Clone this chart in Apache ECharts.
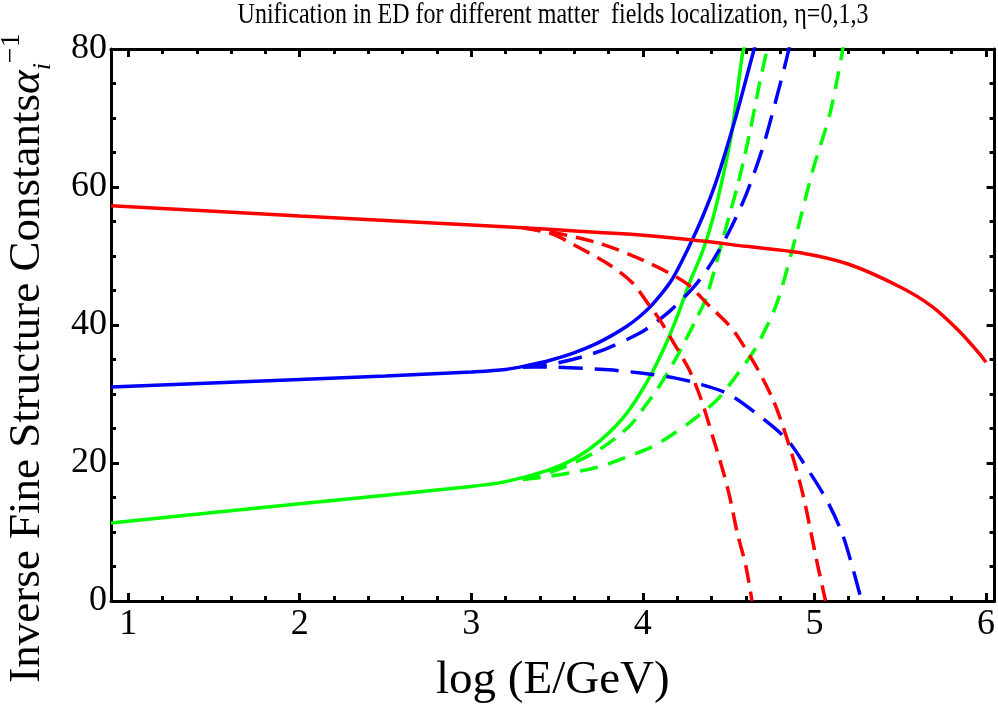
<!DOCTYPE html>
<html>
<head>
<meta charset="utf-8">
<script src="https://cdn.jsdelivr.net/npm/echarts@6/dist/echarts.min.js"></script>
<style>
html, body { margin: 0; padding: 0; background: #fff; }
#chart { width: 998px; height: 709px; }
</style>
</head>
<body>
<div id="chart"></div>
<script>
// values: [log10(E/GeV), alpha_i^-1]
var redSolid = [[0.9,57.3],[2.0,55.8],[3.0,54.5],[3.5,53.8],[3.75,53.4],[4.0,53.0],[4.33,52.2],[4.6,51.4],[4.91,50.5],[5.2,48.8],[5.5,45.5],[5.69,42.6],[5.84,39.2],[5.96,35.9],[6.0,34.6]];
var redDashA = [[3.3,54.1],[3.47,53.2],[3.6,51.6],[3.8,48.8],[3.94,46.1],[4.03,43.1],[4.1,40.7],[4.17,37.8],[4.27,33.5],[4.34,29.2],[4.41,23.6],[4.47,18.6],[4.51,14.7],[4.55,9.9],[4.6,5.1],[4.636,0]];
var redDashB = [[3.3,54.1],[3.5,53.3],[3.75,51.8],[4.0,49.4],[4.25,46.1],[4.39,42.7],[4.49,40.3],[4.54,38.8],[4.66,34.0],[4.76,29.1],[4.83,24.3],[4.89,19.5],[4.94,14.7],[4.98,9.9],[5.02,5.06],[5.065,0]];
var blueSolid = [[0.9,31.0],[2.0,32.1],[2.5,32.6],[3.0,33.2],[3.2,33.55],[3.34,34.2],[3.46,34.9],[3.59,35.9],[3.72,37.2],[3.82,38.5],[3.9,39.7],[3.98,41.2],[4.06,43.1],[4.17,46.6],[4.27,51.4],[4.35,55.8],[4.43,61.0],[4.54,70.0],[4.64,79.2],[4.66,81]];
var blueDashUp = [[3.3,33.9],[3.46,34.3],[3.65,35.4],[3.8,36.7],[3.98,38.8],[4.06,40.1],[4.17,42.3],[4.3,45.6],[4.4,49.0],[4.5,53.4],[4.6,58.8],[4.7,65.8],[4.78,73.0],[4.835,78.3],[4.86,81]];
var blueDashDown = [[3.3,33.9],[3.46,33.9],[3.8,33.5],[4.0,33.0],[4.19,32.3],[4.31,31.6],[4.49,30.1],[4.66,27.2],[4.84,23.4],[4.95,19.5],[5.07,14.7],[5.16,9.9],[5.22,5.06],[5.275,0]];
var greenSolid = [[0.9,11.3],[2.0,14.1],[3.0,16.6],[3.2,17.3],[3.44,18.9],[3.6,20.6],[3.75,23.2],[3.9,27.0],[4.03,32.0],[4.13,37.0],[4.2,41.2],[4.27,46.0],[4.35,50.8],[4.41,55.6],[4.47,61.9],[4.52,68.2],[4.58,79.2],[4.6,81]];
var greenDash1 = [[3.3,17.6],[3.5,19.0],[3.73,21.7],[3.92,25.3],[4.02,28.5],[4.1,31.3],[4.2,35.5],[4.3,40.3],[4.37,44.0],[4.45,51.0],[4.5,55.5],[4.56,61.0],[4.62,67.5],[4.68,75.0],[4.72,79.5],[4.73,81]];
var greenDash2 = [[3.3,17.6],[3.46,18.1],[3.67,19.0],[3.79,19.8],[3.9,20.8],[4.06,22.4],[4.17,24.1],[4.27,25.8],[4.43,29.1],[4.54,32.5],[4.66,36.8],[4.78,43.1],[4.89,52.7],[4.99,62.4],[5.09,70.6],[5.16,79.2],[5.17,81]];

var xMajor = [1, 2, 3, 4, 5, 6];
var xMinor = [1.2,1.4,1.6,1.8,2.2,2.4,2.6,2.8,3.2,3.4,3.6,3.8,4.2,4.4,4.6,4.8,5.2,5.4,5.6,5.8,6.0];

var serif = 'Liberation Serif';
var chart = echarts.init(document.getElementById('chart'));

function xAx(pos, ticks, len, labels) {
    return {
        type: 'value', position: pos, min: 0.9, max: 6.05,
        axisLine: { show: len > 6, lineStyle: { color: '#000', width: 3 } },
        axisTick: { inside: true, length: len, customValues: ticks, lineStyle: { color: '#000', width: 3 } },
        axisLabel: labels ? { customValues: ticks, fontFamily: serif, fontSize: 36, color: '#000', margin: 6 } : { show: false },
        splitLine: { show: false }
    };
}
function yAx(pos, labels) {
    return {
        type: 'value', position: pos, min: 0, max: 80, interval: 20,
        axisLine: { show: true, lineStyle: { color: '#000', width: 3 } },
        axisTick: { inside: true, length: 8, lineStyle: { color: '#000', width: 3 } },
        minorTick: { show: true, splitNumber: 4, length: 5, lineStyle: { color: '#000', width: 3 } },
        axisLabel: labels ? { fontFamily: serif, fontSize: 36, color: '#000', margin: 4 } : { show: false },
        splitLine: { show: false }
    };
}
function line(data, color, dash) {
    return {
        type: 'line', data: data, showSymbol: false, smooth: 0.3, animation: false,
        lineStyle: { color: color, width: 3.5, type: dash || 'solid' }
    };
}

var xBottom = xAx('bottom', xMajor, 8, true);
xBottom.name = 'log (E/GeV)';
xBottom.nameLocation = 'middle';
xBottom.nameGap = 56;
xBottom.nameTextStyle = { fontFamily: serif, fontSize: 47, color: '#000' };

var option = {
    backgroundColor: '#fff',
    animation: false,
    grid: { left: 111, right: 2, top: 49, bottom: 108 },
    xAxis: [xBottom, xAx('bottom', xMinor, 5, false), xAx('top', xMajor, 8, false), xAx('top', xMinor, 5, false)],
    yAxis: [yAx('left', true), yAx('right', false)],
    graphic: [
        { type: 'text', x: 553, y: 15, scaleY: 1.2,
            style: { text: 'Unification in ED for different matter  fields localization, \u03b7=0,1,3',
                font: '24px "Liberation Serif"', fill: '#000', align: 'center', verticalAlign: 'middle' } },
        { type: 'text', x: 27, y: 358, rotation: Math.PI / 2,
            style: { text: '{a|Inverse Fine Structure Constants}{b|\u03b1}{c|i}{d|\u22121}', align: 'center', verticalAlign: 'middle',
                rich: {
                    a: { font: '45px "Liberation Serif"', fill: '#000', lineHeight: 58, verticalAlign: 'middle' },
                    b: { font: 'italic 45px "Liberation Serif"', fill: '#000', lineHeight: 58, verticalAlign: 'middle' },
                    c: { font: 'italic 26px "Liberation Serif"', fill: '#000', lineHeight: 26, verticalAlign: 'bottom' },
                    d: { font: '28px "Liberation Serif"', fill: '#000', lineHeight: 28, verticalAlign: 'top' }
                } } }
    ],
    series: [
        line(greenSolid, '#00ff00'),
        line(greenDash1, '#00ff00', [18, 10]),
        line(greenDash2, '#00ff00', [18, 11]),
        line(blueSolid, '#0000ff'),
        line(blueDashUp, '#0000ff', [24, 12]),
        line(blueDashDown, '#0000ff', [24, 12]),
        line(redSolid, '#ff0000'),
        line(redDashA, '#ff0000', [18, 9]),
        line(redDashB, '#ff0000', [18, 9])
    ]
};
chart.setOption(option);
</script>
</body>
</html>
